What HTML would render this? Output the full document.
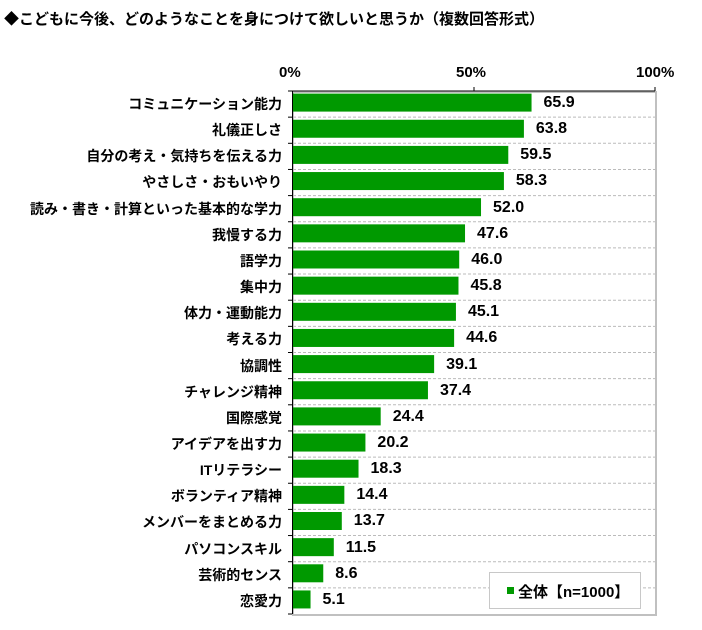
<!DOCTYPE html><html><head><meta charset="utf-8"><style>
body{margin:0;background:#fff;font-family:"Liberation Sans","Noto Sans CJK JP",sans-serif;}
.t{position:absolute;white-space:nowrap;font-weight:bold;color:#000}
</style></head><body>
<div style="position:relative;width:702px;height:630px;overflow:hidden">
<div class="t" style="left:4px;top:8px;font-size:15px">◆こどもに今後、どのようなことを身につけて欲しいと思うか（複数回答形式）</div>
<div class="t" style="left:279px;top:64px;font-size:15px">0%</div>
<div class="t" style="left:456px;top:64px;font-size:15px">50%</div>
<div class="t" style="left:636px;top:64px;font-size:15px">100%</div>
<svg width="702" height="630" style="position:absolute;left:0;top:0" id="s"></svg>
<div id="lab"></div>
</div>
<script>
(function(){
var d=[["コミュニケーション能力",65.9],["礼儀正しさ",63.8],["自分の考え・気持ちを伝える力",59.5],["やさしさ・おもいやり",58.3],["読み・書き・計算といった基本的な学力",52.0],["我慢する力",47.6],["語学力",46.0],["集中力",45.8],["体力・運動能力",45.1],["考える力",44.6],["協調性",39.1],["チャレンジ精神",37.4],["国際感覚",24.4],["アイデアを出す力",20.2],["ITリテラシー",18.3],["ボランティア精神",14.4],["メンバーをまとめる力",13.7],["パソコンスキル",11.5],["芸術的センス",8.6],["恋愛力",5.1]];
var x0=292,sc=3.635,y0=91,st=26.15,s='',h='';
s+='<rect x="293" y="92" width="363" height="523" fill="none" stroke="#c0c0c0" stroke-width="2"/>';
s+='<line x1="292" y1="91" x2="655" y2="91" stroke="#000"/>';
s+='<line x1="292.5" y1="91" x2="292.5" y2="614" stroke="#000"/>';
s+='<line x1="474" y1="87" x2="474" y2="91" stroke="#000"/><line x1="655" y1="87" x2="655" y2="91" stroke="#000"/>';
for(var i=0;i<20;i++){var y=y0+i*st;
if(i>0)s+='<line x1="293" y1="'+y+'" x2="655" y2="'+y+'" stroke="#bbb" stroke-dasharray="3,2"/>';
s+='<line x1="288" y1="'+y+'" x2="292" y2="'+y+'" stroke="#000"/>';
var w=d[i][1]*sc;s+='<rect x="293" y="'+(y+2.6)+'" width="'+(w-1)+'" height="18" fill="#009900"/>';
h+='<div class="t" style="right:'+(702-282)+'px;top:'+(y+3)+'px;font-size:14px">'+d[i][0]+'</div>';
h+='<div class="t" style="left:'+(x0+w+12)+'px;top:'+(y+3)+'px;font-size:16px">'+d[i][1].toFixed(1)+'</div>';}
s+='<line x1="288" y1="614" x2="292" y2="614" stroke="#000"/>';
s+='<rect x="489.5" y="572.5" width="151" height="36" fill="#fff" stroke="#c8c8c8"/><rect x="507" y="587" width="7" height="7" fill="#009900"/>';
h+='<div class="t" style="left:518px;top:581px;font-size:15px">全体【n=1000】</div>';
document.getElementById('s').innerHTML=s;document.getElementById('lab').innerHTML=h;
})();
</script></body></html>
